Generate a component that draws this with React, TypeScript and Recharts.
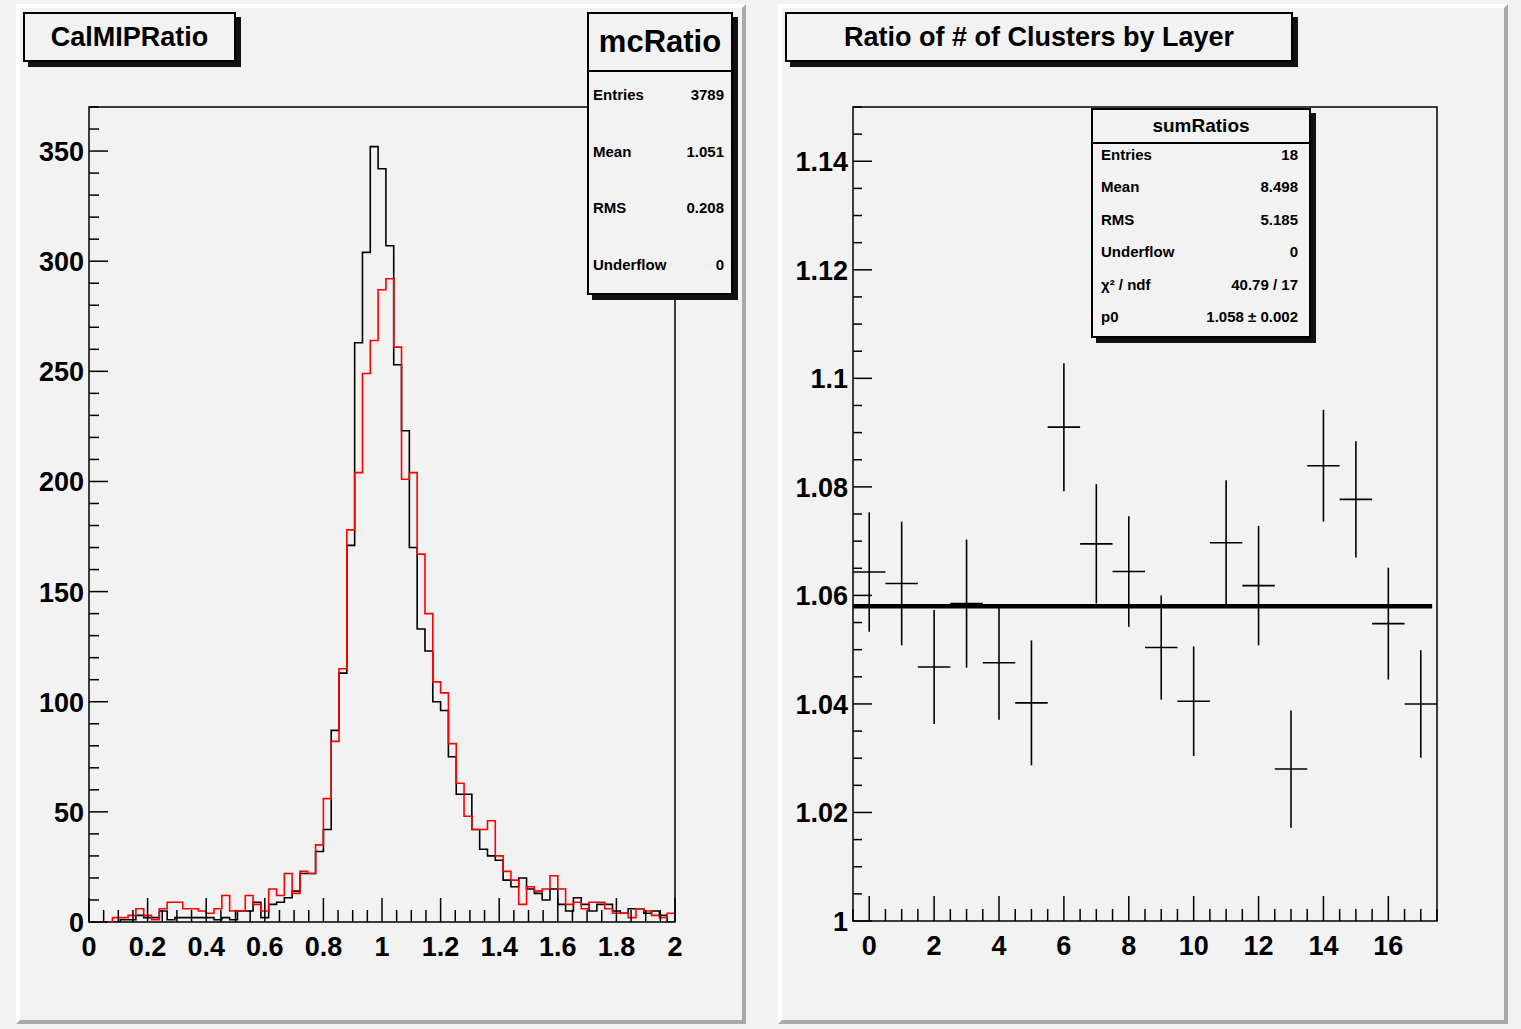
import React from "react";
import {
  LineChart,
  Line,
  ScatterChart,
  Scatter,
  ErrorBar,
  XAxis,
  YAxis,
  ReferenceArea,
  ReferenceLine,
} from "recharts";

const FONT = '"Liberation Sans", Arial, Helvetica, sans-serif';

// ---- left pad: CalMIPRatio, 75 bins on [0, 2] ----
const HIST_MIN = 0;
const HIST_MAX = 2;
const HIST_TOP = 370;
// black histogram (data)
const dataCounts = [
  0, 0, 0, 0, 1, 1, 3, 2, 2, 5, 1, 2, 2, 2, 2, 2, 1, 2, 1, 5,
  5, 9, 2, 8, 9, 11, 14, 22, 22, 32, 42, 87, 113, 171, 263, 304, 352, 342, 307, 253,
  223, 170, 133, 123, 100, 96, 75, 58, 58, 42, 33, 30, 28, 19, 16, 20, 15, 13, 10, 15,
  8, 5, 11, 8, 5, 8, 8, 5, 4, 6, 6, 4, 5, 3, 0,
];
// red histogram (mcRatio)
const mcCounts = [
  0, 0, 0, 2, 2, 3, 6, 3, 1, 6, 9, 9, 6, 6, 5, 4, 6, 12, 5, 5,
  12, 8, 5, 15, 12, 22, 13, 23, 22, 35, 56, 82, 115, 178, 204, 249, 264, 287, 292, 261,
  201, 204, 167, 140, 109, 104, 81, 63, 48, 42, 42, 46, 30, 23, 19, 8, 16, 14, 15, 21,
  15, 8, 9, 6, 9, 9, 6, 4, 4, 2, 6, 5, 3, 2, 4,
];
const histXMajor = [0, 0.2, 0.4, 0.6, 0.8, 1, 1.2, 1.4, 1.6, 1.8, 2];
const histYMajor = [0, 50, 100, 150, 200, 250, 300, 350];

const mcStatLabels = ["Entries", "Mean", "RMS", "Underflow"];
const mcStatValues = ["3789", "1.051", "0.208", "0"];

// ---- right pad: sumRatios per layer ----
const layers = [0, 1, 2, 3, 4, 5, 6, 7, 8, 9, 10, 11, 12, 13, 14, 15, 16, 17];
const ratios = [
  1.0643, 1.0622, 1.0468, 1.0585, 1.0476, 1.0402, 1.091, 1.0695, 1.0644,
  1.0504, 1.0405, 1.0697, 1.0618, 1.028, 1.0839, 1.0777, 1.0548, 1.04,
];
const ratioErrs = [
  0.011, 0.0114, 0.0105, 0.0118, 0.0105, 0.0115, 0.0118, 0.011, 0.0102,
  0.0096, 0.0101, 0.0115, 0.011, 0.0108, 0.0103, 0.0107, 0.0103, 0.0099,
];
const LAYER_HALF_WIDTH = 0.5;
const FIT_P0 = 1.058;
const FIT_END = 17.35;
const ratioXMajor = [0, 2, 4, 6, 8, 10, 12, 14, 16];
const ratioYMajor = [1, 1.02, 1.04, 1.06, 1.08, 1.1, 1.12, 1.14];

const sumStatLabels = ["Entries", "Mean", "RMS", "Underflow", "χ² / ndf", "p0"];
const sumStatValues = ["18", "8.498", "5.185", "0", "40.79 / 17", "1.058 ± 0.002"];

// ---- derived tables ----
const binWidth = (HIST_MAX - HIST_MIN) / dataCounts.length;
const histRows = dataCounts.map((d, i) => ({ edge: HIST_MIN + i * binWidth, data: d, mc: mcCounts[i] }));
histRows.push({
  edge: HIST_MAX,
  data: dataCounts[dataCounts.length - 1],
  mc: mcCounts[mcCounts.length - 1],
});

const ratioPoints = layers.map((x, i) => ({ x, y: ratios[i], yErr: ratioErrs[i], xErr: LAYER_HALF_WIDTH }));

function subdivide(lo: number, hi: number, step: number) {
  const out: number[] = [];
  const n = Math.round((hi - lo) / step);
  for (let i = 0; i <= n; i++) out.push(+(lo + i * step).toFixed(6));
  return out;
}

const histXTicks = subdivide(0, 2, 0.05);
const histYTicks = subdivide(0, 370, 10);
const ratioXTicks = subdivide(-0.5, 17.5, 0.5);
const ratioYTicks = subdivide(1, 1.15, 0.005);

const isIn = (v: number, list: number[]) => list.some((m) => Math.abs(m - v) < 1e-6);
const fmt = (v: number) => String(Number(v.toFixed(3)));

const labelStyle = { fontFamily: FONT, fontWeight: 700, fontSize: 27, fill: "#000" } as const;

function makeXTick(majors: number[], majorLen: number, minorLen: number) {
  return (props: any) => {
    const { x, y, payload } = props;
    const major = isIn(payload.value, majors);
    return (
      <g>
        <line x1={x} x2={x} y1={y} y2={y - (major ? majorLen : minorLen)} stroke="#000" strokeWidth={1.5} />
        {major ? (
          <text x={x} y={y + 34} textAnchor="middle" {...labelStyle}>
            {fmt(payload.value)}
          </text>
        ) : null}
      </g>
    );
  };
}

function makeYTick(majors: number[], majorLen: number, minorLen: number) {
  return (props: any) => {
    const { x, y, payload } = props;
    const major = isIn(payload.value, majors);
    return (
      <g>
        <line x1={x} x2={x + (major ? majorLen : minorLen)} y1={y} y2={y} stroke="#000" strokeWidth={1.5} />
        {major ? (
          <text x={x - 5} y={y + 10} textAnchor="end" {...labelStyle}>
            {fmt(payload.value)}
          </text>
        ) : null}
      </g>
    );
  };
}

const histXTick = makeXTick(histXMajor, 24, 12);
const histYTick = makeYTick(histYMajor, 19, 10);
const ratioXTick = makeXTick(ratioXMajor, 25, 12);
const ratioYTick = makeYTick(ratioYMajor, 19, 9);

const noMarker = () => <g />;

function Pad({ left, width }: { left: number; width: number }) {
  return (
    <div
      style={{
        position: "absolute",
        left,
        top: 4,
        width,
        height: 1020,
        boxSizing: "border-box",
        background: "#f2f2f2",
        borderTop: "4px solid #ffffff",
        borderLeft: "4px solid #ffffff",
        borderRight: "4px solid #a9a9a9",
        borderBottom: "4px solid #a9a9a9",
      }}
    />
  );
}

const boxBase: React.CSSProperties = {
  position: "absolute",
  boxSizing: "border-box",
  background: "#f2f2f2",
  border: "2px solid #000",
  boxShadow: "5px 5px 0 #111",
  fontFamily: FONT,
  fontWeight: 700,
  color: "#000",
};

function TitleBox(p: { left: number; top: number; width: number; height: number; text: string; size: number }) {
  return (
    <div
      style={{
        ...boxBase,
        left: p.left,
        top: p.top,
        width: p.width,
        height: p.height,
        fontSize: p.size,
        lineHeight: `${p.height - 4}px`,
        textAlign: "center",
      }}
    >
      {p.text}
    </div>
  );
}

function StatBox(p: {
  left: number;
  top: number;
  width: number;
  height: number;
  title: string;
  titleSize: number;
  headH: number;
  labels: string[];
  values: string[];
  rowTop: number;
  rowStep: number;
  padL: number;
  padR: number;
}) {
  return (
    <div style={{ ...boxBase, left: p.left, top: p.top, width: p.width, height: p.height }}>
      <div
        style={{
          height: p.headH,
          borderBottom: "2px solid #000",
          fontSize: p.titleSize,
          lineHeight: `${p.headH}px`,
          textAlign: "center",
        }}
      >
        {p.title}
      </div>
      {p.labels.map((l, i) => (
        <div
          key={l}
          style={{
            position: "absolute",
            left: p.padL,
            right: p.padR,
            top: p.rowTop + i * p.rowStep - 12,
            height: 24,
            lineHeight: "24px",
            fontSize: 15,
            display: "flex",
            justifyContent: "space-between",
          }}
        >
          <span>{l}</span>
          <span>{p.values[i]}</span>
        </div>
      ))}
    </div>
  );
}

export default function App() {
  return (
    <div
      style={{
        position: "absolute",
        left: 0,
        top: 0,
        width: 1521,
        height: 1029,
        background: "#f2f2f2",
        overflow: "hidden",
      }}
    >
      <Pad left={16} width={730} />
      <Pad left={778} width={730} />

      <div style={{ position: "absolute", left: 0, top: 0 }}>
        <LineChart width={760} height={1029} data={histRows} margin={{ top: 107, right: 85, bottom: 67, left: 9 }}>
          <XAxis
            dataKey="edge"
            type="number"
            domain={[HIST_MIN, HIST_MAX]}
            ticks={histXTicks}
            interval={0}
            tick={histXTick}
            tickLine={false}
            axisLine={false}
            tickSize={0}
            tickMargin={0}
            height={40}
            allowDataOverflow
          />
          <YAxis
            type="number"
            domain={[0, HIST_TOP]}
            ticks={histYTicks}
            interval={0}
            tick={histYTick}
            tickLine={false}
            axisLine={false}
            tickSize={0}
            tickMargin={0}
            width={80}
            allowDataOverflow
          />
          <ReferenceArea
            x1={HIST_MIN}
            x2={HIST_MAX}
            y1={0}
            y2={HIST_TOP}
            fill="none"
            stroke="#000"
            strokeWidth={1.5}
            ifOverflow="visible"
          />
          <Line type="stepAfter" dataKey="data" stroke="#000" strokeWidth={1.6} dot={false} isAnimationActive={false} />
          <Line type="stepAfter" dataKey="mc" stroke="#ff0000" strokeWidth={1.6} dot={false} isAnimationActive={false} />
        </LineChart>
      </div>

      <div style={{ position: "absolute", left: 770, top: 0 }}>
        <ScatterChart width={740} height={1029} margin={{ top: 107, right: 73, bottom: 68, left: 13 }}>
          <XAxis
            dataKey="x"
            type="number"
            domain={[-0.5, 17.5]}
            ticks={ratioXTicks}
            interval={0}
            tick={ratioXTick}
            tickLine={false}
            axisLine={false}
            tickSize={0}
            tickMargin={0}
            height={40}
            allowDataOverflow
          />
          <YAxis
            dataKey="y"
            type="number"
            domain={[1, 1.15]}
            ticks={ratioYTicks}
            interval={0}
            tick={ratioYTick}
            tickLine={false}
            axisLine={false}
            tickSize={0}
            tickMargin={0}
            width={70}
            allowDataOverflow
          />
          <ReferenceArea x1={-0.5} x2={17.5} y1={1} y2={1.15} fill="none" stroke="#000" strokeWidth={1.5} ifOverflow="visible" />
          <ReferenceLine
            segment={[
              { x: -0.5, y: FIT_P0 },
              { x: FIT_END, y: FIT_P0 },
            ]}
            stroke="#000"
            strokeWidth={4.5}
            ifOverflow="visible"
          />
          <Scatter data={ratioPoints} shape={noMarker} isAnimationActive={false}>
            <ErrorBar dataKey="yErr" direction="y" width={0} stroke="#000" strokeWidth={1.6} isAnimationActive={false} />
            <ErrorBar dataKey="xErr" direction="x" width={0} stroke="#000" strokeWidth={1.6} isAnimationActive={false} />
          </Scatter>
        </ScatterChart>
      </div>

      <TitleBox left={23} top={12} width={213} height={50} text="CalMIPRatio" size={27} />
      <StatBox
        left={587}
        top={12}
        width={146}
        height={283}
        title="mcRatio"
        titleSize={31}
        headH={56}
        labels={mcStatLabels}
        values={mcStatValues}
        rowTop={81}
        rowStep={56.7}
        padL={4}
        padR={7}
      />

      <TitleBox left={785} top={12} width={508} height={50} text="Ratio of # of Clusters by Layer" size={27} />
      <StatBox
        left={1091}
        top={108}
        width={220}
        height={230}
        title="sumRatios"
        titleSize={19}
        headH={32}
        labels={sumStatLabels}
        values={sumStatValues}
        rowTop={45}
        rowStep={32.4}
        padL={8}
        padR={11}
      />
    </div>
  );
}
